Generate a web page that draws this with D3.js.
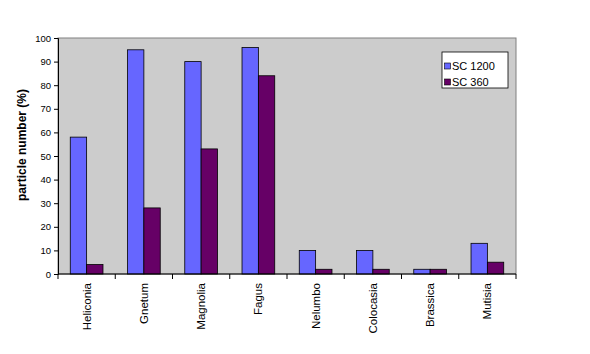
<!DOCTYPE html>
<html>
<head>
<meta charset="utf-8">
<script src="https://cdn.jsdelivr.net/npm/d3@7"></script>
<style>
  body { margin: 0; background: #fff; }
  text { font-family: Arial, "Liberation Sans", sans-serif; }
</style>
</head>
<body>
<svg width="590" height="354"></svg>
<script>
// data
const genera = ["Heliconia", "Gnetum", "Magnolia", "Fagus", "Nelumbo", "Colocasia", "Brassica", "Mutisia"];
const sc1200 = [58, 95, 90, 96, 10, 10, 2, 13];
const sc360 = [4, 28, 53, 84, 2, 2, 2, 5];
const seriesNames = ["SC 1200", "SC 360"];
const colors = ["#6666ff", "#660066"];
const yTicks = [0, 10, 20, 30, 40, 50, 60, 70, 80, 90, 100];

const svg = d3.select("svg");
const margin = { left: 58, top: 38, right: 74, bottom: 80 };
const width = 590 - margin.left - margin.right,
  height = 354 - margin.top - margin.bottom;

const g = svg.append("g").attr("transform", `translate(${margin.left},${margin.top})`);

// grey plot area
g.append("rect")
  .attr("width", width)
  .attr("height", height)
  .attr("fill", "#cccccc")
  .attr("stroke", "#808080")
  .attr("stroke-width", 1);

const x = d3.scaleBand().domain(genera).range([0, width]).paddingInner(0);
const y = d3.scaleLinear().domain([0, 100]).range([height, 0]);

// each category: bar width = band / (2 + 1.5 gap)
const x1 = d3.scaleBand().domain(seriesNames).range([0, x.bandwidth()]).paddingInner(0).paddingOuter(0.75);

const rows = genera.map((d, i) => ({ name: d, vals: [sc1200[i], sc360[i]] }));

const groups = g.selectAll(".cat")
  .data(rows)
  .enter()
  .append("g")
  .attr("transform", d => `translate(${x(d.name)},0)`);

groups.selectAll("rect")
  .data(d => d.vals.map((v, j) => ({ s: seriesNames[j], v: v, j: j })))
  .enter()
  .append("rect")
  .attr("x", d => x1(d.s))
  .attr("y", d => y(d.v))
  .attr("width", x1.bandwidth())
  .attr("height", d => height - y(d.v))
  .attr("fill", d => colors[d.j])
  .attr("stroke", "#000")
  .attr("stroke-width", 0.8);

// y axis
const yAxis = g.append("g")
  .call(d3.axisLeft(y).tickValues(yTicks).tickSize(4).tickPadding(3));
yAxis.select(".domain").attr("stroke", "#000");
yAxis.selectAll("text").style("font-size", "9.5px").attr("fill", "#000");

// x axis with ticks at the category boundaries
const xAxis = g.append("g").attr("transform", `translate(0,${height})`);
xAxis.append("line").attr("x1", 0).attr("x2", width).attr("stroke", "#000");
xAxis.selectAll(".bt")
  .data(genera.concat(["end"]))
  .enter()
  .append("line")
  .attr("x1", (d, i) => i * x.step())
  .attr("x2", (d, i) => i * x.step())
  .attr("y1", 0)
  .attr("y2", 5)
  .attr("stroke", "#000");

xAxis.selectAll(".lab")
  .data(genera)
  .enter()
  .append("text")
  .attr("transform", d => `translate(${x(d) + x.bandwidth() / 2 + 4},9) rotate(-90)`)
  .attr("text-anchor", "end")
  .style("font-size", "11.5px")
  .text(d => d);

// y label
svg.append("text")
  .attr("transform", "translate(26,145) rotate(-90)")
  .attr("text-anchor", "middle")
  .style("font-size", "12px")
  .style("font-weight", "bold")
  .text("particle number (%)");

// legend
const legend = svg.append("g").attr("transform", "translate(442,52)");
legend.append("rect")
  .attr("width", 66)
  .attr("height", 36)
  .attr("fill", "#fff")
  .attr("stroke", "#000")
  .attr("stroke-width", 0.8);
legend.selectAll(".sw")
  .data(seriesNames)
  .enter()
  .append("rect")
  .attr("x", 2.5)
  .attr("y", (d, i) => 11 + i * 16)
  .attr("width", 6)
  .attr("height", 6)
  .attr("fill", (d, i) => colors[i])
  .attr("stroke", "#000")
  .attr("stroke-width", 0.6);
legend.selectAll(".lt")
  .data(seriesNames)
  .enter()
  .append("text")
  .attr("x", 10)
  .attr("y", (d, i) => 14 + i * 16)
  .attr("dy", "0.35em")
  .style("font-size", "11px")
  .text(d => d);
</script>
</body>
</html>
